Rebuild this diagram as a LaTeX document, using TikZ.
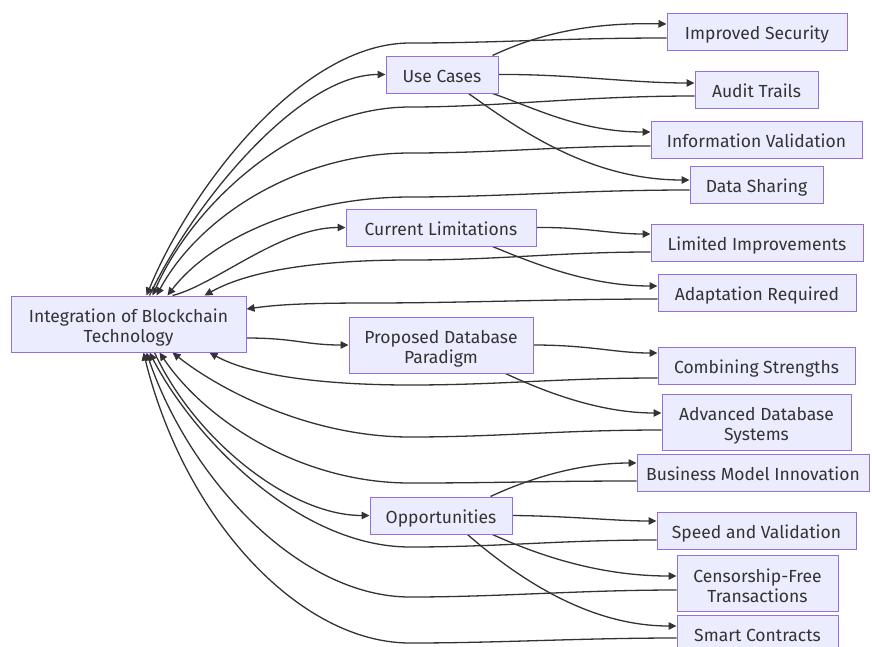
\documentclass[tikz,border=0pt]{standalone}
\usepackage{fontspec}
\setmainfont{Fira Sans}
\usetikzlibrary{arrows.meta,backgrounds}
\definecolor{nodefill}{HTML}{ECECFF}
\definecolor{nodeline}{HTML}{9370DB}
\definecolor{ink}{HTML}{333333}
\newcommand{\toppad}{\rule{0pt}{20pt}}
\tikzset{
  box/.style={draw=nodeline, fill=nodefill, line width=1pt, text=ink, inner sep=0pt,
    align=center, font=\fontsize{17.5}{20}\selectfont},
  single/.style={box, minimum height=37pt, text height=19pt, text depth=4pt},
  tall/.style={box, minimum height=56pt},
  flow/.style={draw=ink, line width=1.3pt, -{Triangle[length=8pt,width=7.5pt]}},
}
\begin{document}
\begin{tikzpicture}[x=1pt,y=-1pt]
\path[use as bounding box] (0,0) rectangle (872,646);

% root and categories
\node[tall,minimum width=235pt] (int) at (128.5,324) {\toppad Integration of Blockchain\\Technology};
\node[single,minimum width=112pt] (uc) at (442,74.5) {Use Cases};
\node[single,minimum width=190pt] (cl) at (441,227.5) {Current Limitations};
\node[tall,minimum width=184pt] (pdp) at (441,345) {\toppad Proposed Database\\Paradigm};
\node[single,minimum width=142pt] (opp) at (441,515.5) {Opportunities};

% leaves
\node[single,minimum width=180pt] (is) at (757,31.5) {Improved Security};
\node[single,minimum width=123pt] (at) at (756.5,89.5) {Audit Trails};
\node[single,minimum width=211pt] (iv) at (756.5,139.5) {Information Validation};
\node[single,minimum width=133pt] (ds) at (756.5,184.5) {Data Sharing};
\node[single,minimum width=212pt] (li) at (757,242.5) {Limited Improvements};
\node[single,minimum width=198pt] (ar) at (757,292.5) {Adaptation Required};
\node[single,minimum width=197pt] (cs) at (756.5,365.5) {Combining Strengths};
\node[tall,minimum width=189pt] (ads) at (756.5,422) {\toppad Advanced Database\\Systems};
\node[single,minimum width=232pt] (bmi) at (753,472.5) {Business Model Innovation};
\node[single,minimum width=199pt] (sv) at (756.5,530.5) {Speed and Validation};
\node[tall,minimum width=161pt] (cft) at (757.5,583) {\toppad Censorship-Free\\Transactions};
\node[single,minimum width=161pt] (sc) at (757.5,633.5) {Smart Contracts};

\begin{pgfonlayer}{background}
\fill[white] (0,0) rectangle (872,646);

% root to categories
\draw[flow] ([xshift=139pt]int.north west) .. controls (195,200) and (300,74.5) .. (uc.west);
\draw[flow] ([xshift=162pt]int.north west) .. controls (215,285) and (280,227.5) .. (cl.west);
\draw[flow] ([yshift=-14pt]int.east) .. controls (295,338) and (305,345) .. (pdp.west);
\draw[flow] ([xshift=144pt]int.south west) .. controls (195,440) and (290,515.5) .. (opp.west);

% categories to leaves
\draw[flow] ([xshift=-6pt]uc.north east) .. controls (530,38) and (580,22) .. ([yshift=7.5pt]is.west);
\draw[flow] (uc.east) .. controls (570,74) and (630,83) .. ([yshift=6.5pt]at.west);
\draw[flow] ([xshift=-6pt]uc.south east) .. controls (535,108) and (580,132) .. ([yshift=7.5pt]iv.west);
\draw[flow] ([xshift=-30pt]uc.south east) .. controls (520,130) and (590,180) .. ([yshift=4.5pt]ds.west);
\draw[flow] (cl.east) .. controls (585,227) and (610,234) .. ([yshift=8.5pt]li.west);
\draw[flow] ([xshift=-44pt]cl.south east) .. controls (535,264) and (590,286) .. ([yshift=6.5pt]ar.west);
\draw[flow] (pdp.east) .. controls (590,345) and (615,353) .. ([yshift=12.5pt]cs.west);
\draw[flow] ([xshift=-28pt]pdp.south east) .. controls (545,392) and (600,413) .. ([yshift=9pt]ads.west);
\draw[flow] ([xshift=-22pt]opp.north east) .. controls (530,478) and (580,463) .. ([yshift=9.5pt]bmi.west);
\draw[flow] (opp.east) .. controls (570,516) and (615,521) .. ([yshift=9.5pt]sv.west);
\draw[flow] ([xshift=-20pt]opp.south east) .. controls (540,556) and (600,576) .. ([yshift=7pt]cft.west);
\draw[flow] ([xshift=-45pt]opp.south east) .. controls (520,580) and (590,626) .. ([yshift=7.5pt]sc.west);

% leaves back to root
\draw[flow] ([yshift=-6.5pt]is.west) .. controls (560,38) and (500,43) .. (410,43) .. controls (300,43) and (190,190) .. ([xshift=136pt]int.north west);
\draw[flow] ([yshift=-6.5pt]at.west) .. controls (580,96) and (500,107) .. (410,107) .. controls (300,107) and (195,200) .. ([xshift=142pt]int.north west);
\draw[flow] ([yshift=-6.5pt]iv.west) .. controls (560,146) and (500,153) .. (410,153) .. controls (300,153) and (200,215) .. ([xshift=146pt]int.north west);
\draw[flow] ([yshift=-5.5pt]ds.west) .. controls (580,190) and (500,197) .. (410,197) .. controls (300,197) and (210,240) .. ([xshift=157pt]int.north west);
\draw[flow] ([yshift=-9.5pt]li.west) .. controls (560,252) and (500,260) .. (410,260) .. controls (320,260) and (250,270) .. ([xshift=194pt]int.north west);
\draw[flow] ([yshift=-6.5pt]ar.west) .. controls (560,299) and (460,303) .. (370,303) .. controls (300,303) and (275,305) .. ([yshift=15pt]int.east);
\draw[flow] ([yshift=-12.5pt]cs.west) .. controls (560,378) and (500,385) .. (410,385) .. controls (320,385) and (250,375) .. ([xshift=199pt]int.south west);
\draw[flow] ([yshift=-8pt]ads.west) .. controls (560,430) and (500,437) .. (410,437) .. controls (310,437) and (220,390) .. ([xshift=162pt]int.south west);
\draw[flow] ([yshift=-8.5pt]bmi.west) .. controls (540,481) and (500,483) .. (410,483) .. controls (300,483) and (205,420) .. ([xshift=149pt]int.south west);
\draw[flow] ([yshift=-9.5pt]sv.west) .. controls (560,540) and (500,547) .. (410,547) .. controls (300,547) and (195,440) .. ([xshift=139pt]int.south west);
\draw[flow] ([yshift=-7pt]cft.west) .. controls (580,590) and (500,597) .. (410,597) .. controls (300,597) and (190,480) .. ([xshift=136pt]int.south west);
\draw[flow] ([yshift=-4.5pt]sc.west) .. controls (580,638) and (500,643) .. (410,643) .. controls (300,643) and (185,520) .. ([xshift=133pt]int.south west);
\end{pgfonlayer}
\end{tikzpicture}
\end{document}
